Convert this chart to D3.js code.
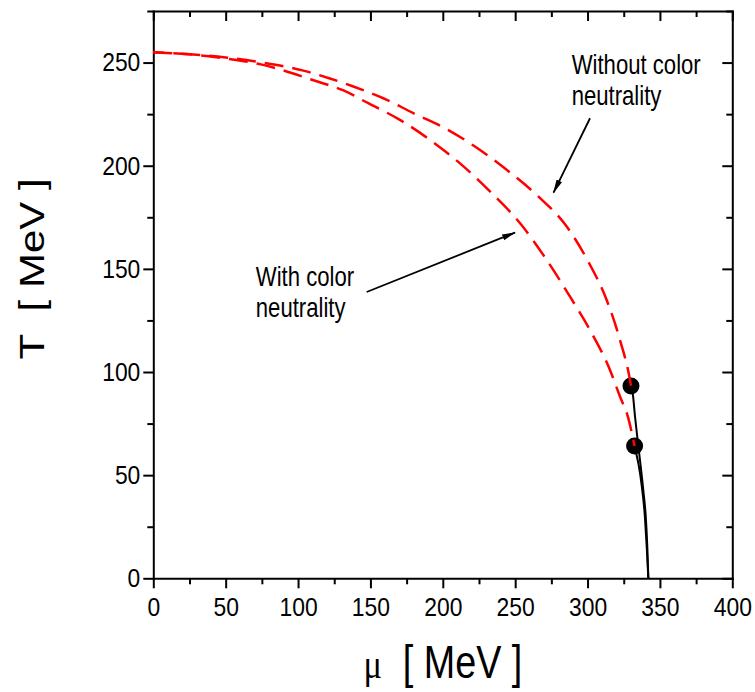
<!DOCTYPE html>
<html>
<head>
<meta charset="utf-8">
<script src="https://cdn.jsdelivr.net/npm/d3@7"></script>
<style>
body { margin: 0; background: #fff; }
svg { display: block; }
text { font-family: "Liberation Sans", Arial, sans-serif; fill: #000; }
</style>
</head>
<body>
<div id="chart"></div>
<script>
const width = 755
const height = 692
const margin = {top: 11, right: 22.7, bottom: 113.7, left: 153.3}
// the original lettering is tall and narrow
const narrow = 0.82
const tickNarrow = 0.88

// Phase boundary without color neutrality (outer dashed curve)
const muWithout = [0, 25, 50, 75, 103, 122, 138.2, 158.9, 179.6, 201.5, 222.2, 244.1, 264.9, 285.6, 300.5, 313.2, 322.4, 329.3, 330.0]
const tWithout = [255, 254, 252.5, 250, 246.2, 242.3, 238.4, 232.7, 225.5, 218.2, 209.3, 198.0, 185.8, 170.5, 153.5, 134.9, 115.5, 96.1, 93.2]

// Phase boundary with color neutrality (inner dashed curve)
const muWith = [0, 25, 50, 75, 111.7, 131, 148.5, 170.4, 191.2, 213.1, 233.8, 253.4, 271.8, 287.9, 302.9, 315.5, 322.4, 328.0, 332.5]
const tWith = [255, 254, 252, 249, 241.2, 236.6, 230.3, 222.2, 212.5, 200.4, 186.7, 172.1, 154.3, 136.5, 118.8, 101.0, 88.1, 78.0, 64.1]

// First order lines below the critical points (solid)
const muSolidUpper = [330.0, 331.2, 332.8, 334.6, 336.2, 338.5, 340.2, 341.3, 342]
const tSolidUpper = [93.2, 89.7, 78.4, 67.0, 57.4, 42.8, 30.0, 15.0, 0]
const muSolidLower = [332.5, 333.8, 335.3, 337.4, 339.6, 340.9, 342]
const tSolidLower = [64.1, 60.0, 55.0, 45.0, 30.0, 15.0, 0]

// Critical end points
const muCritical = [330.0, 332.5]
const tCritical = [93.2, 64.1]

const xTicks = [0, 50, 100, 150, 200, 250, 300, 350, 400]
const xMinorTicks = [25, 75, 125, 175, 225, 275, 325, 375]
const yTicks = [0, 50, 100, 150, 200, 250]
const yMinorTicks = [25, 75, 125, 175, 225, 275]

const svg = d3.select("div#chart").append("svg").attr("width", width).attr("height", height)

const x = d3.scaleLinear().domain([0, 400]).range([margin.left, width - margin.right])
const y = d3.scaleLinear().domain([0, 275]).range([height - margin.bottom, margin.top])

const zip = (xs, ys) => xs.map((v, i) => [v, ys[i]])
const line = d3.line().x(d => x(d[0])).y(d => y(d[1])).curve(d3.curveMonotoneX)

// Axes: outward ticks bottom/left, inward ticks top/right
function styleAxis(g) {
    g.select(".domain").attr("stroke-width", 2).attr("stroke-linecap", "square")
    g.selectAll(".tick line").attr("stroke-width", 2)
    g.selectAll(".tick text").attr("font-size", 26).attr("fill", "#000")
}

const axisGroup = svg.append("g").attr("id", "axisGroup")
axisGroup.append("g").attr("transform", `translate(0, ${y(0)})`)
    .call(d3.axisBottom(x).tickValues(xTicks).tickSizeInner(10).tickSizeOuter(0).tickPadding(9).tickFormat(d3.format("d")))
    .call(styleAxis)
    .call(g => g.selectAll(".tick text").attr("transform", `scale(${tickNarrow}, 1)`))
axisGroup.append("g").attr("transform", `translate(0, ${y(0)})`)
    .call(d3.axisBottom(x).tickValues(xMinorTicks).tickSize(6).tickFormat(""))
    .call(g => g.select(".domain").remove()).call(styleAxis)
axisGroup.append("g").attr("transform", `translate(${x(0)}, 0)`)
    .call(d3.axisLeft(y).tickValues(yTicks).tickSizeInner(10).tickSizeOuter(0).tickPadding(4).tickFormat(d3.format("d")))
    .call(styleAxis)
    .call(g => g.selectAll(".tick text").attr("x", -13 / tickNarrow).attr("transform", `scale(${tickNarrow}, 1)`))
axisGroup.append("g").attr("transform", `translate(${x(0)}, 0)`)
    .call(d3.axisLeft(y).tickValues(yMinorTicks).tickSize(6).tickFormat(""))
    .call(g => g.select(".domain").remove()).call(styleAxis)
axisGroup.append("g").attr("transform", `translate(0, ${y(275)})`)
    .call(d3.axisTop(x).tickValues(xTicks).tickSizeInner(-10).tickSizeOuter(0).tickFormat(""))
    .call(styleAxis)
axisGroup.append("g").attr("transform", `translate(0, ${y(275)})`)
    .call(d3.axisTop(x).tickValues(xMinorTicks).tickSize(-6).tickFormat(""))
    .call(g => g.select(".domain").remove()).call(styleAxis)
axisGroup.append("g").attr("transform", `translate(${x(400)}, 0)`)
    .call(d3.axisRight(y).tickValues(yTicks).tickSizeInner(-10).tickSizeOuter(0).tickFormat(""))
    .call(styleAxis)
axisGroup.append("g").attr("transform", `translate(${x(400)}, 0)`)
    .call(d3.axisRight(y).tickValues(yMinorTicks).tickSize(-6).tickFormat(""))
    .call(g => g.select(".domain").remove()).call(styleAxis)

// Axis titles
const xTitle = svg.append("text")
    .attr("transform", `translate(${(x(0) + x(400)) / 2}, 678) scale(${narrow}, 1)`)
    .attr("text-anchor", "middle").attr("font-size", 46)
    .style("white-space", "pre")
xTitle.append("tspan").attr("font-family", "Liberation Serif, serif").attr("font-size", 42).text("μ")
xTitle.append("tspan").text("  [ MeV ]")

svg.append("text")
    .attr("transform", "translate(43.5, 269) rotate(-90) scale(1.2, 1)")
    .attr("text-anchor", "middle").attr("font-size", 35)
    .style("white-space", "pre")
    .text("T  [ MeV ]")

// Curves
const plotGroup = svg.append("g").attr("id", "plotGroup")
plotGroup.append("path").datum(zip(muSolidUpper, tSolidUpper))
    .attr("d", line).attr("fill", "none").attr("stroke", "#000").attr("stroke-width", 2)
plotGroup.append("path").datum(zip(muSolidLower, tSolidLower))
    .attr("d", line).attr("fill", "none").attr("stroke", "#000").attr("stroke-width", 2)

plotGroup.selectAll("circle")
    .data(zip(muCritical, tCritical))
    .enter().append("circle")
    .attr("cx", d => x(d[0])).attr("cy", d => y(d[1])).attr("r", 8.5).attr("fill", "#000")

plotGroup.append("path").datum(zip(muWithout, tWithout))
    .attr("d", line).attr("fill", "none").attr("stroke", "#ff0000").attr("stroke-width", 2.5)
    .attr("stroke-dasharray", "19,9")
plotGroup.append("path").datum(zip(muWith, tWith))
    .attr("d", line).attr("fill", "none").attr("stroke", "#ff0000").attr("stroke-width", 2.5)
    .attr("stroke-dasharray", "19,9").attr("stroke-dashoffset", 8)

// Annotations with arrows
svg.append("defs").append("marker")
    .attr("id", "arrow").attr("markerUnits", "userSpaceOnUse")
    .attr("viewBox", "0 -4 14 8").attr("refX", 13).attr("refY", 0)
    .attr("markerWidth", 14).attr("markerHeight", 8).attr("orient", "auto")
    .append("path").attr("d", "M0,-3L14,0L0,3Z").attr("fill", "#000")

const arrows = [
    {from: [147.4, 138.8], to: [249.9, 167.6]},
    {from: [301.7, 223.0], to: [276.5, 187.0]}
]
svg.selectAll("line.arrow").data(arrows).enter().append("line").attr("class", "arrow")
    .attr("x1", d => x(d.from[0])).attr("y1", d => y(d.from[1]))
    .attr("x2", d => x(d.to[0])).attr("y2", d => y(d.to[1]))
    .attr("stroke", "#000").attr("stroke-width", 1.8).attr("marker-end", "url(#arrow)")

const labels = [
    {mu: 70.8, t: 141.7, lines: ["With color", "neutrality"]},
    {mu: 289.0, t: 244.5, lines: ["Without color", "neutrality"]}
]
labels.forEach(l => {
    const t = svg.append("text").attr("font-size", 27)
        .attr("transform", `translate(${x(l.mu)}, ${y(l.t)}) scale(${narrow}, 1)`)
    l.lines.forEach((s, i) => {
        t.append("tspan").attr("x", 0).attr("y", i * 31).text(s)
    })
})
</script>
</body>
</html>
